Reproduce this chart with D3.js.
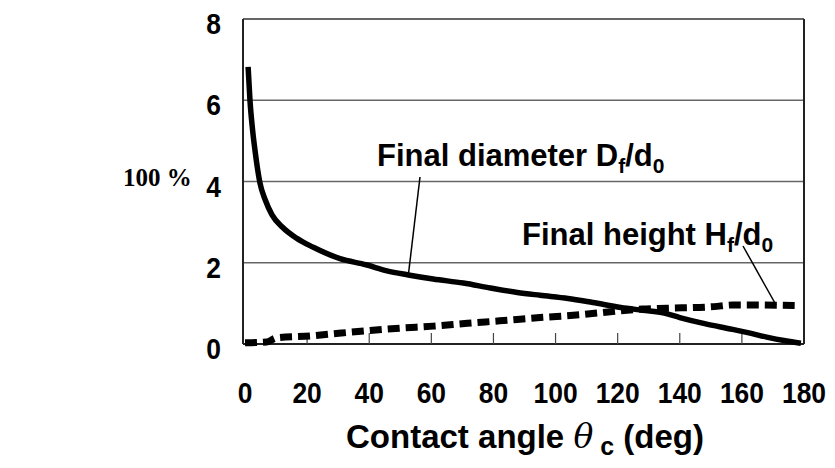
<!DOCTYPE html>
<html><head><meta charset="utf-8">
<script src="https://cdn.jsdelivr.net/npm/d3@7"></script>
<style>body{margin:0;background:#fff}svg{display:block}</style>
</head><body>
<svg id="c" width="835" height="468"></svg>
<script>
const xTicks = [0,20,40,60,80,100,120,140,160,180];
const yTicks = [0,2,4,6,8];
const diamTheta = [1,1.6,2.4,3.2,4.8,6.5,8.7,12,16.7,22,30.6,39,45.7,52.6,60.6,70.3,79,87.7,95,104,112,121,128,135,140,148,157,163,168,174,179];
const diamVal   = [6.82,6.0,5.3,4.78,3.97,3.55,3.18,2.88,2.6,2.38,2.1,1.95,1.8,1.7,1.6,1.5,1.38,1.27,1.2,1.12,1.02,0.9,0.83,0.76,0.65,0.5,0.36,0.26,0.17,0.08,0.02];
const heightTheta = [0,7,10,21,31,40,50,60.6,71.6,82,95,108,121,128,136,151,157,165,177];
const heightVal   = [0.03,0.05,0.15,0.2,0.27,0.33,0.39,0.44,0.51,0.57,0.65,0.72,0.82,0.86,0.88,0.92,0.96,0.96,0.95];

const svg = d3.select("#c");
const x = d3.scaleLinear().domain([0,180]).range([245,804]);
const y = d3.scaleLinear().domain([0,8]).range([344,19]);
const F = "'Liberation Sans', Arial, sans-serif";

// gridlines
svg.append("g").selectAll("line").data(yTicks.filter(d=>d>0)).join("line")
  .attr("x1",243).attr("x2",804).attr("y1",d=>y(d)).attr("y2",d=>y(d))
  .attr("stroke",d=>d===8?"#333":"#666").attr("stroke-width",1.5);
// frame
svg.append("line").attr("x1",243).attr("x2",243).attr("y1",y(8)).attr("y2",y(0)).attr("stroke","#222").attr("stroke-width",2);
svg.append("line").attr("x1",804).attr("x2",804).attr("y1",y(8)).attr("y2",y(0)).attr("stroke","#222").attr("stroke-width",2);
svg.append("line").attr("x1",243).attr("x2",804).attr("y1",y(0)).attr("y2",y(0)).attr("stroke","#222").attr("stroke-width",2);
// x ticks (inward)
svg.append("g").selectAll("line").data(xTicks.slice(1,-1)).join("line")
  .attr("x1",d=>x(d)).attr("x2",d=>x(d)).attr("y1",y(0)).attr("y2",y(0)-11)
  .attr("stroke","#444").attr("stroke-width",1.2);

// tick labels (slightly condensed)
svg.append("g").selectAll("text").data(xTicks).join("text")
  .attr("transform",d=>`translate(${x(d)},403) scale(0.88,1)`).attr("text-anchor","middle")
  .style("font-family",F).style("font-weight","bold").style("font-size","30px")
  .text(d=>d);
svg.append("g").selectAll("text").data(yTicks).join("text")
  .attr("transform",d=>`translate(221,${y(d)+15}) scale(0.88,1)`).attr("text-anchor","end")
  .style("font-family",F).style("font-weight","bold").style("font-size","30px")
  .text(d=>d);

// lines
const line = d3.line().x(d=>x(d[0])).y(d=>y(d[1])).curve(d3.curveMonotoneX);
svg.append("path").datum(diamTheta.map((t,i)=>[t,diamVal[i]]))
  .attr("d",line).attr("fill","none").attr("stroke","#000").attr("stroke-width",5.5)
  .attr("stroke-linejoin","round");
svg.append("path").datum(heightTheta.map((t,i)=>[t,heightVal[i]]))
  .attr("d",line).attr("fill","none").attr("stroke","#000").attr("stroke-width",7)
  .attr("stroke-dasharray","12,6");

// annotations
function label(xp, yp, main){
  const t = svg.append("text").attr("x",xp).attr("y",yp)
    .style("font-family",F).style("font-weight","bold").style("font-size","31px");
  t.append("tspan").text(main);
  t.append("tspan").attr("dy",7).style("font-size","21px").text("f");
  t.append("tspan").attr("dy",-7).text("/d");
  t.append("tspan").attr("dy",7).style("font-size","21px").text("0");
}
label(377,166,"Final diameter D");
label(522,245,"Final height H");
svg.append("line").attr("x1",420).attr("y1",177).attr("x2",x(52.6)).attr("y2",y(1.7)).attr("stroke","#000").attr("stroke-width",1.5);
svg.append("line").attr("x1",743).attr("y1",246).attr("x2",x(171)).attr("y2",y(0.96)).attr("stroke","#000").attr("stroke-width",1.5);

// axis title
const tt = svg.append("text").attr("x",525).attr("y",448).attr("text-anchor","middle")
  .style("font-family",F).style("font-weight","bold").style("font-size","33px");
tt.append("tspan").text("Contact angle ");
tt.append("tspan").style("font-family","'DejaVu Serif', serif").style("font-style","italic").style("font-weight","normal").text("θ");
tt.append("tspan").attr("dy",7).style("font-size","25px").text(" c");
tt.append("tspan").attr("dy",-7).text(" (deg)");

// side label
svg.append("text").attr("x",123).attr("y",186)
  .style("font-family","'Liberation Serif', 'Times New Roman', serif").style("font-weight","bold").style("font-size","25px")
  .text("100 %");
</script>
</body></html>
